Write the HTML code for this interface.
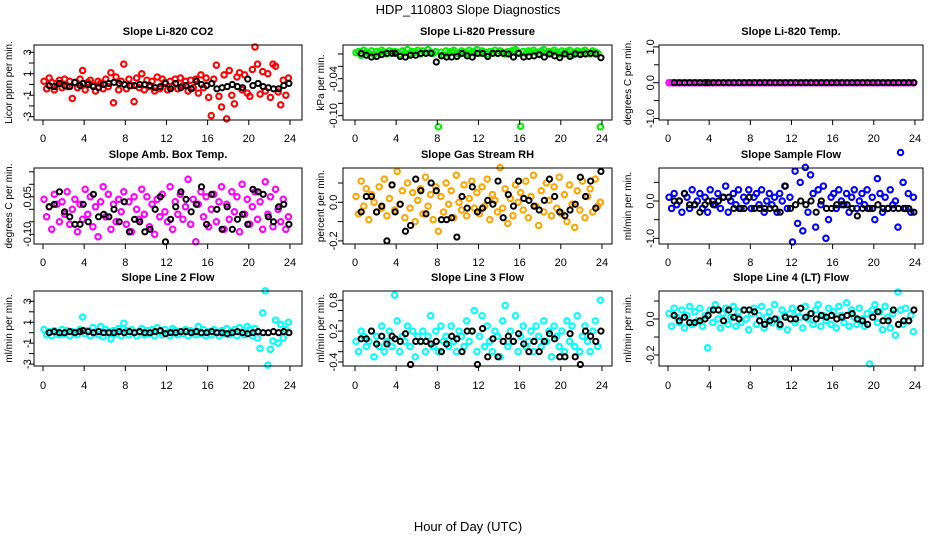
<!DOCTYPE html>
<html><head><meta charset="utf-8"><style>
body{margin:0;background:#fff;}
svg{display:block;font-family:"Liberation Sans",sans-serif;}
</style></head><body>
<svg id="chart" width="936" height="540" viewBox="0 0 936 540" xmlns="http://www.w3.org/2000/svg">
<rect width="936" height="540" fill="#fff"/>
<text x="468" y="14" text-anchor="middle" font-size="13">HDP_110803  Slope Diagnostics</text>
<text x="468" y="531" text-anchor="middle" font-size="13">Hour of Day (UTC)</text>
</svg>
<script>
const xTicks=[0,4,8,12,16,20,24];
const blackHours=[0.6,1.1,1.6,2.1,2.6,3.1,3.6,3.9,4.4,4.9,5.4,5.9,6.4,6.9,7.4,7.9,8.4,8.9,9.4,9.9,10.4,10.9,11.4,11.9,12.4,12.9,13.4,13.9,14.4,14.9,15.4,15.9,16.4,16.9,17.4,17.9,18.4,18.9,19.4,19.9,20.4,20.9,21.4,21.9,22.4,22.9,23.4,23.9];
const colorHours=Array.from({length:96},(_,i)=>0.1+i*0.25);
const titles=["Slope Li-820 CO2","Slope Li-820 Pressure","Slope Li-820 Temp.","Slope Amb. Box Temp.","Slope Gas Stream RH","Slope Sample Flow","Slope Line 2 Flow","Slope Line 3 Flow","Slope Line 4 (LT) Flow"];
const yTitles=["Licor ppm per min.","kPa per min.","degrees C per min.","degrees C per min.","percent per min.","ml/min per min.","ml/min per min.","ml/min per min.","ml/min per min."];
const colors=["#ff0000","#00ee00","#ff00ff","#ff00ff","#ffa500","#0000ff","#00ffff","#00ffff","#00ffff"];
const yTickVals=[[3,2,1,0,-1,-2,-3],[0,-0.02,-0.04,-0.06,-0.08,-0.10],[1,0.5,0,-0.5,-1],[0.15,0.10,0.05,0,-0.05,-0.10],[0.1,0,-0.1,-0.2],[0.5,0,-0.5,-1],[3,2,1,0,-1,-2,-3],[0.8,0.6,0.4,0.2,0,-0.2,-0.4],[0.1,0,-0.1,-0.2]];
const yTickLabels=[["3","1","-1","-3"],["-0.04","-0.10"],["1.0","0.0","-1.0"],["0.05","-0.10"],["0.0","-0.2"],["0.0","-1.0"],["3","1","-1","-3"],["0.8","0.2","-0.4"],["0.0","-0.2"]];
const yTickLabelVals=[[3,1,-1,-3],[-0.04,-0.10],[1,0,-1],[0.05,-0.10],[0,-0.2],[0,-1],[3,1,-1,-3],[0.8,0.2,-0.4],[0,-0.2]];
const co2Color=[.3,-.4,.6,.2,-.5,.1,.4,-.3,.5,-.2,.3,-1.3,.2,-.3,.5,1.3,-.5,.2,.4,-.1,-.6,.3,.1,-.4,.5,-.2,1.1,-1.7,.7,-.5,.3,1.9,-.4,.5,-.1,-1.6,.6,-.3,1.0,-.5,.4,-.2,.3,-.6,.7,-.4,.5,.2,-.5,.3,-.2,.5,-.4,.6,-.1,.3,-.6,.4,-.3,.5,-.8,.9,-.3,.6,-1.2,-2.9,.5,1.8,-1.1,-2.1,.9,-3.2,1.3,-1.0,-1.8,.7,1.1,-.5,.9,-.8,-1.1,1.4,3.5,1.9,-.9,1.2,-.6,1.0,-1.2,1.9,1.7,-.7,-1.9,.4,-1.0,.6];
const co2Black=[-.1,-.2,.1,-.1,-.2,.2,-.1,.1,.0,-.2,-.3,.0,.1,.2,.1,.0,-.1,-.1,.0,.0,-.1,-.3,-.2,.1,-.4,.1,-.3,-.1,-.4,.3,.0,-.1,.1,-.4,-.3,-.2,.0,-.2,-.3,.5,-.1,.1,-.2,-.3,-.4,-.4,-.1,.1];
const presColor=[.002,.004,-.002,.006,.003,.001,.005,-.001,.004,.002,.006,.003,.000,.005,.002,.004,.003,-.001,.005,.002,.007,.001,.004,.003,.006,.000,.005,.002,.007,.003,.001,.004,-.118,.003,-.002,.005,.001,.004,.006,.002,.000,.005,.003,.001,.006,.002,.004,.007,.001,.005,.003,.000,.004,.002,.006,.001,.005,.003,.000,.004,.002,.006,.007,.003,-.117,.004,.001,.005,.002,.006,.003,.000,.005,.007,.002,.004,.001,.006,.003,.000,.005,.002,.004,.006,-.002,.003,.005,.001,.004,.006,.002,.000,.005,.003,.001,-.118];
const presBlack=[.001,-.002,-.005,-.004,-.001,.001,.001,.001,-.004,-.005,-.002,-.002,.001,.001,.001,-.013,-.003,-.005,-.005,-.004,.001,-.003,-.005,.001,.001,-.004,.001,.001,.001,.000,-.005,.001,-.005,-.004,-.003,-.001,-.005,.000,-.003,-.006,.000,-.004,.000,-.001,.000,.001,.000,-.006];
const tempColor=[0,0,0,0,0,0,0,0,0,0,0,0,0,0,0,0,0,0,0,0,0,0,0,0,0,0,0,0,0,0,0,0,0,0,0,0,0,0,0,0,0,0,0,0,0,0,0,0,0,0,0,0,0,0,0,0,0,0,0,0,0,0,0,0,0,0,0,0,0,0,0,0,0,0,0,0,0,0,0,0,0,0,0,0,0,0,0,0,0,0,0,0,0,0,0,0];
const tempBlack=[0,0,0,0,0,0,0,0,0,0,0,0,0,0,0,0,0,0,0,0,0,0,0,0,0,0,0,0,0,0,0,0,0,0,0,0,0,0,0,0,0,0,0,0,0,0,0,0];
const boxColor=[.04,-.03,.01,-.08,.06,.02,-.05,.03,-.02,.07,-.06,.00,.04,-.09,.02,-.04,.08,-.02,.05,-.07,.01,-.11,.03,.09,-.03,.06,-.08,.02,-.05,.04,-.01,.07,-.06,.03,-.09,.05,.00,-.04,.08,-.02,.05,-.07,.02,-.10,.04,-.03,.06,-.01,-.05,.09,-.08,.03,-.02,.06,-.04,.01,.12,-.06,.04,-.13,.02,.07,-.03,.05,-.07,.00,.06,-.05,.03,.09,-.08,.02,-.04,.07,-.01,.05,-.09,.10,-.02,.04,-.06,.01,.07,-.04,.03,-.08,.11,-.02,.05,-.07,.08,.00,-.05,.04,-.08,-.03];
const boxBlack=[.01,.02,.07,-.01,-.03,-.06,-.06,.02,-.05,.06,-.03,-.02,-.03,.00,-.05,.03,-.09,-.04,-.05,-.09,-.08,.00,.05,-.13,-.04,.01,.07,.04,-.01,.02,.09,-.06,.06,.00,-.08,.01,-.08,-.04,-.02,-.06,.08,.07,.06,-.03,-.05,.01,.02,-.06];
const rhColor=[.03,-.06,.11,-.02,.07,-.09,.04,.00,-.05,.08,-.03,.12,-.07,.02,.09,-.04,.16,-.01,.06,-.08,.10,-.03,.05,-.10,.01,.07,-.06,.13,-.02,.04,-.09,.08,-.15,.03,-.05,.10,-.01,.06,-.08,.14,.00,-.04,.09,-.07,.02,.11,-.03,.05,-.06,.08,-.02,.12,-.09,.04,.01,-.05,.18,-.03,.07,-.11,.02,-.07,.09,.00,.05,-.04,.11,-.08,.03,.14,-.02,-.12,.06,-.05,.10,.01,-.07,.08,-.03,.13,-.06,.04,-.10,.09,-.01,-.13,.06,-.04,.11,-.08,.03,.07,-.05,.12,-.02,.00];
const rhBlack=[-.05,.03,.03,-.05,-.02,-.2,.09,-.05,-.01,-.15,-.12,.12,.06,-.06,.1,.06,-.09,-.09,-.08,-.18,.03,-.03,.08,-.05,-.03,.01,-.01,.11,-.08,.04,-.02,.11,.02,.01,-.02,-.04,.01,.12,.03,-.05,-.07,-.04,-.01,.13,.03,.11,-.03,.16];
const sampColor=[.1,-.2,.2,-.1,.0,-.3,.2,.1,-.2,.3,-.1,.0,.2,-.2,.1,-.3,.3,.0,-.1,.2,-.2,.1,.4,-.3,.0,.2,-.1,.3,-.2,.1,.0,.3,-.2,.1,.2,-.1,.3,-.3,.0,.2,-.1,.1,-.3,.2,.0,.4,-.2,.1,-1.1,.8,-.6,.5,-.8,.9,-.3,.7,.2,-.7,.3,-.1,.4,-1.0,-.5,.1,.2,-.2,.3,.0,-.1,.2,-.3,.1,.3,-.2,.0,.2,-.1,.3,-.2,.1,-.5,.6,.2,-.3,.1,-.2,.3,-.1,.0,-.7,1.3,.5,-.2,.2,-.3,.1];
const sampBlack=[.0,.0,.2,-.1,-.1,-.3,-.1,.0,-.1,.0,.1,.1,-.2,-.2,-.2,.1,-.2,-.2,-.2,-.2,-.2,-.3,.4,-.2,-.1,.0,-.1,.0,-.3,.0,-.2,-.2,-.1,-.1,-.1,-.2,-.4,-.2,-.2,-.2,-.1,-.2,-.2,-.2,-.2,-.2,-.2,-.3];
const l2Color=[.3,-.2,.1,-.3,.2,.0,-.2,.3,-.1,.2,-.3,.1,.0,-.2,.3,1.5,-.1,.2,-.3,.5,.0,-.2,.6,-.4,.3,.1,-.6,.2,-.1,.4,-.3,.9,.2,-.2,.3,.0,-.3,.1,.4,-.2,.2,-.1,.3,-.3,.5,.1,-.2,.3,.0,-.3,.4,.2,-.2,.1,-.1,.3,-.3,.2,.0,-.2,.6,-.1,.3,-.3,.1,-.2,.3,.0,-.3,.2,-.1,.4,-.2,.1,.3,-.3,.5,.0,-.2,.6,.3,-.3,.4,-.5,-1.5,1.9,4.0,-3.1,-1.6,-.8,1.2,-1.0,.8,-.5,.3,1.0];
const l2Black=[.0,.1,.0,.0,.1,.0,.1,.2,.1,.0,.1,.0,.0,.0,.1,.0,.1,.0,.1,.0,.0,.1,.2,-.1,.0,.0,.1,.1,.0,.1,.0,.0,.1,.0,.0,-.1,.0,.1,.0,-.1,.0,.1,.0,.0,.1,.0,.1,.0];
const l3Color=[.0,-.2,.2,.1,-.1,.0,.2,-.3,.1,-.1,.3,-.2,.0,.2,-.1,.9,.4,-.2,.1,.0,.3,-.1,.2,-.3,.1,.0,.2,-.2,.1,.5,-.1,.2,-.2,.3,.0,.1,-.1,.3,.0,-.2,.2,.1,-.1,.4,.0,.2,.6,-.2,.1,.5,-.1,.3,.0,-.2,.2,.1,-.3,.4,.7,-.1,.2,.0,.5,-.2,.1,.3,-.1,.0,.2,-.2,.3,.1,-.1,.4,.0,.2,-.3,.3,.1,-.1,.2,-.2,.4,.0,.3,-.1,.5,-.2,.1,.3,.0,-.2,.2,.4,-.1,.8];
const l3Black=[.05,.05,.2,-.05,.1,-.05,.1,.05,.0,.15,-.45,.0,.0,.0,-.05,.0,-.2,-.05,.1,.05,-.2,.2,.2,-.45,.25,-.3,.05,-.3,.0,.1,.0,.15,-.05,-.2,.0,-.2,.0,.15,.05,-.3,-.3,.15,-.3,-.45,.2,.1,.0,.2];
const l4Color=[.03,-.04,.06,.01,-.02,.05,-.05,.02,.07,-.03,.04,-.01,.06,-.04,.02,-.16,.05,-.02,.08,.00,-.05,.03,.06,-.03,.01,.07,-.04,.04,-.02,.05,.00,-.06,.03,.06,-.03,.02,.07,-.05,.01,.04,-.02,.08,.00,-.04,.05,.02,-.06,.03,.06,-.02,.04,.01,-.05,.07,.00,.03,-.03,.05,.08,-.04,.02,-.01,.06,-.03,.04,-.05,.07,.02,-.02,.09,-.04,.05,.01,-.03,.06,.00,-.04,.03,-.25,.05,.08,-.02,.04,-.06,.07,.01,-.05,.03,-.09,.15,.05,-.03,.06,-.01,.02,-.07];
const l4Black=[.02,-.01,.01,-.02,-.02,-.01,.00,.02,.05,.05,-.01,.05,.01,.00,.05,.05,.04,-.01,-.03,-.01,.00,-.03,.01,.00,.00,.06,.01,.03,.00,.02,.01,.02,.00,.01,.02,.03,.00,-.01,-.03,.01,.04,-.01,-.01,.05,-.03,-.01,-.01,.05];
const colorSeries=[co2Color,presColor,tempColor,boxColor,rhColor,sampColor,l2Color,l3Color,l4Color];
const blackSeries=[co2Black,presBlack,tempBlack,boxBlack,rhBlack,sampBlack,l2Black,l3Black,l4Black];

const cols=[{l:34,r:302,x0:43,yLab:27,yTitle:8},{l:343,r:612,x0:355,yLab:333,yTitle:320},{l:659,r:923,x0:668,yLab:650,yTitle:627}];
const rows=[{t:45,b:120,title:35,xl:142},{t:168,b:244,title:158,xl:266},{t:291,b:366,title:281,xl:389}];
const yMaps=[{z:84.5,k:10.73},{z:54,k:617},{z:82.7,k:35.8},{z:209.3,k:250},{z:202.3,k:193},{z:201,k:37.3},{z:332.7,k:10.45},{z:341.4,k:51.4},{z:319,k:180}];
const NS="http://www.w3.org/2000/svg";
const svg=document.getElementById('chart');
function mk(tag,attrs,parent){const e=document.createElementNS(NS,tag);for(const k in attrs)e.setAttribute(k,attrs[k]);(parent||svg).appendChild(e);return e;}
for(let p=0;p<9;p++){
  const c=cols[p%3],r=rows[Math.floor(p/3)],ym=yMaps[p];
  const xs=h=>c.x0+h*10.29;
  const ys=v=>ym.z-v*ym.k;
  const g=mk('g',{});
  
  
  const t=mk('text',{x:(c.l+c.r)/2,y:r.title,'text-anchor':'middle','font-size':'11','font-weight':'bold'},g);
  t.textContent=titles[p];
  
  
  const pts=mk('g',{},g);
  
  
  colorSeries[p].forEach((v,i)=>{
    const ci=mk('circle',{cx:xs(colorHours[i]),cy:ys(v),r:2.7,fill:'none',stroke:colors[p],'stroke-width':2.1},pts);
    
    
  });
  blackSeries[p].forEach((v,i)=>{
    const ci=mk('circle',{cx:xs(blackHours[i]),cy:ys(v),r:2.6,fill:'none',stroke:'#000','stroke-width':2},pts);
    
    
  });
  const box=mk('rect',{x:c.l,y:r.t,width:c.r-c.l,height:r.b-r.t,fill:'none',stroke:'#000','stroke-width':1},g);
  
  
  mk('line',{x1:xs(0),x2:xs(24),y1:r.b,y2:r.b,stroke:'#000'},g);
  xTicks.forEach(h=>{
    mk('line',{x1:xs(h),x2:xs(h),y1:r.b,y2:r.b+5,stroke:'#000'},g);
    const tl=mk('text',{x:xs(h),y:r.xl,'text-anchor':'middle','font-size':'11'},g);
    tl.textContent=h;
    
    
  });
  const yv=yTickVals[p];
  mk('line',{x1:c.l,x2:c.l,y1:ys(yv[0]),y2:ys(yv[yv.length-1]),stroke:'#000'},g);
  yv.forEach(v=>{mk('line',{x1:c.l,x2:c.l-5,y1:ys(v),y2:ys(v),stroke:'#000'},g);});
  yTickLabelVals[p].forEach((v,i)=>{
    const yl=mk('text',{x:c.yLab,y:ys(v),'text-anchor':'middle','font-size':'11',transform:`rotate(-90 ${c.yLab} ${ys(v)})`,dy:'4'},g);
    yl.textContent=yTickLabels[p][i];
    
    
  });
  const cy=(r.t+r.b)/2;
  const yt=mk('text',{x:c.yTitle,y:cy,'text-anchor':'middle','font-size':'10',transform:`rotate(-90 ${c.yTitle} ${cy})`,dy:'4'},g);
  yt.textContent=yTitles[p];
  
  
}
</script>
</body></html>
